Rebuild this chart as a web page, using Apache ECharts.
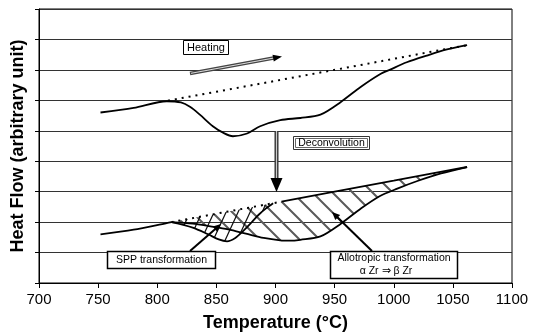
<!DOCTYPE html>
<html>
<head>
<meta charset="utf-8">
<script src="https://cdn.jsdelivr.net/npm/echarts@6/dist/echarts.min.js"></script>
<style>
html,body{margin:0;padding:0;background:#fff;}
#c{width:536px;height:334px;}
</style>
</head>
<body>
<div id="c"></div>
<script>
// ---------- data ----------
const xTicks = [700, 750, 800, 850, 900, 950, 1000, 1050, 1100];
const yTicks = [0, 1, 2, 3, 4, 5, 6, 7, 8, 9];

// upper trace: measured heat flow on heating
const heatX = [752, 780, 808, 820, 828, 836, 847, 856, 864, 876, 887, 904, 921, 938, 955, 972, 988, 997, 1011, 1028, 1045, 1062];
const heatY = [5.60, 5.75, 5.97, 5.93, 5.78, 5.53, 5.15, 4.93, 4.82, 4.91, 5.15, 5.35, 5.42, 5.53, 5.94, 6.44, 6.85, 7.01, 7.25, 7.47, 7.67, 7.81];
// upper dotted baseline
const heatBaseX = [809, 900, 990, 1035, 1062];
const heatBaseY = [5.99, 6.64, 7.29, 7.62, 7.81];

// lower (deconvoluted) traces
const leadX = [752, 780, 808, 812];
const leadY = [1.60, 1.75, 1.97, 2.00];
const lowBaseX = [812, 860, 905, 950, 1000, 1035, 1062];
const lowBaseY = [2.00, 2.35, 2.67, 3.00, 3.36, 3.62, 3.81];
const lowBaseDottedEnd = 905;
const sppX = [812, 830, 843, 852, 859, 866, 873, 880, 886, 892, 898];
const sppY = [2.00, 1.82, 1.60, 1.43, 1.37, 1.48, 1.72, 2.00, 2.25, 2.45, 2.62];
const alloX = [812, 830, 845, 860, 875, 890, 904, 912, 921, 938, 955, 972, 988, 1003, 1020, 1040, 1062];
const alloY = [2.00, 1.95, 1.86, 1.76, 1.62, 1.48, 1.40, 1.39, 1.42, 1.53, 1.94, 2.44, 2.85, 3.10, 3.35, 3.60, 3.81];

// ---------- helpers ----------
const FONT = '"Liberation Sans", Arial, sans-serif';
const zip = (xs, ys) => xs.map((x, i) => [x, ys[i]]);

function hatch(w, h, dir, color, lw) {
  const c = document.createElement('canvas');
  c.width = w; c.height = h;
  const g = c.getContext('2d');
  g.strokeStyle = color; g.lineWidth = lw; g.lineCap = 'butt';
  g.beginPath();
  for (let k = -1; k <= 1; k++) {
    if (dir === 'back') {
      g.moveTo(k * w - w, -h); g.lineTo(k * w + 2 * w, 2 * h);
    } else {
      g.moveTo(k * w + 2 * w, -h); g.lineTo(k * w - w, 2 * h);
    }
  }
  g.stroke();
  return c;
}
const alloPattern = hatch(20, 20, 'back', '#5a5a5a', 2);
const sppPattern = hatch(12, 26, 'fwd', '#111', 1.2);

function areaRender(topX, topY, botX, botY, pattern) {
  const x0 = botX[0], x1 = botX[botX.length - 1];
  return function (params, api) {
    const pts = [];
    pts.push(api.coord([x0, botY[0]]));
    for (let i = 0; i < topX.length; i++) {
      if (topX[i] > x0 && topX[i] < x1) pts.push(api.coord([topX[i], topY[i]]));
    }
    pts.push(api.coord([x1, botY[botY.length - 1]]));
    for (let i = botX.length - 2; i >= 1; i--) pts.push(api.coord([botX[i], botY[i]]));
    return {
      type: 'polygon',
      shape: { points: pts, smooth: 0 },
      style: { fill: { image: pattern, repeat: 'repeat' }, stroke: null }
    };
  };
}

function arrowHead(x1, y1, x2, y2, len, hw) {
  const dx = x2 - x1, dy = y2 - y1, L = Math.hypot(dx, dy);
  const ux = dx / L, uy = dy / L, px = -uy, py = ux;
  const bx = x2 - ux * len, by = y2 - uy * len;
  return [[x2, y2], [bx + px * hw, by + py * hw], [bx - px * hw, by - py * hw]];
}
function shaftEnd(x1, y1, x2, y2, len) {
  const dx = x2 - x1, dy = y2 - y1, L = Math.hypot(dx, dy);
  return [x2 - dx / L * len * 0.8, y2 - dy / L * len * 0.8];
}

const lineBase = { type: 'line', symbol: 'none', smooth: 0.3, z: 3, silent: true };
const solid = { color: '#000', width: 1.8 };
const dotted = { color: '#000', width: 2, type: [2, 5] };

const lowDotX = lowBaseX.filter(x => x <= lowBaseDottedEnd);
const lowDotY = lowBaseY.slice(0, lowDotX.length);
const lowSolX = lowBaseX.filter(x => x >= lowBaseDottedEnd);
const lowSolY = lowBaseY.slice(lowBaseX.length - lowSolX.length);

// annotation geometry
const heatA = [190, 73.5, 282, 56.5];
const sppA = [190, 251, 221, 224];
const alloA = [372, 251, 332, 212];
const hs = shaftEnd(...heatA, 9), ss = shaftEnd(...sppA, 8), as = shaftEnd(...alloA, 8);

const option = {
  animation: false,
  backgroundColor: '#fff',
  grid: { left: 39, right: 24, top: 9, bottom: 51, show: true, borderColor: '#000', borderWidth: 1, outerBoundsMode: 'none' },
  xAxis: {
    type: 'value', min: xTicks[0], max: xTicks[xTicks.length - 1], interval: xTicks[1] - xTicks[0],
    axisLine: { lineStyle: { color: '#000', width: 1 } },
    axisTick: { show: true, length: 5, lineStyle: { color: '#000' } },
    axisLabel: { color: '#000', fontSize: 15, fontFamily: FONT, margin: 9, formatter: v => String(v) },
    splitLine: { show: false },
    name: 'Temperature (°C)', nameLocation: 'middle', nameGap: 31,
    nameTextStyle: { color: '#000', fontSize: 18, fontWeight: 'bold', fontFamily: FONT }
  },
  yAxis: {
    type: 'value', min: yTicks[0], max: yTicks[yTicks.length - 1], interval: yTicks[1] - yTicks[0],
    axisLine: { show: true, lineStyle: { color: '#000', width: 1 } },
    axisTick: { show: true, length: 4, lineStyle: { color: '#000' } },
    axisLabel: { show: false },
    splitLine: { show: true, lineStyle: { color: '#333', width: 1 } },
    name: 'Heat Flow (arbitrary unit)', nameLocation: 'middle', nameGap: 12, nameRotate: 90,
    nameTextStyle: { color: '#000', fontSize: 18, fontWeight: 'bold', fontFamily: FONT }
  },
  series: [
    { type: 'custom', coordinateSystem: 'cartesian2d', data: [[800, 2]], z: 2, silent: true,
      renderItem: areaRender(lowBaseX, lowBaseY, alloX, alloY, alloPattern) },
    { type: 'custom', coordinateSystem: 'cartesian2d', data: [[800, 2]], z: 2, silent: true,
      renderItem: areaRender(lowBaseX, lowBaseY, sppX, sppY, sppPattern) },
    Object.assign({}, lineBase, { data: zip(heatX, heatY), lineStyle: solid }),
    Object.assign({}, lineBase, { smooth: false, data: zip(heatBaseX, heatBaseY), lineStyle: dotted }),
    Object.assign({}, lineBase, { data: zip(leadX, leadY), lineStyle: solid }),
    Object.assign({}, lineBase, { smooth: false, data: zip(lowDotX, lowDotY), lineStyle: dotted }),
    Object.assign({}, lineBase, { smooth: false, data: zip(lowSolX, lowSolY), lineStyle: solid }),
    Object.assign({}, lineBase, { data: zip(sppX, sppY), lineStyle: solid }),
    Object.assign({}, lineBase, { data: zip(alloX, alloY), lineStyle: solid })
  ],
  graphic: [
    // Heating label + arrow
    { type: 'rect', z: 10, shape: { x: 183.5, y: 40.5, width: 45, height: 14 }, style: { fill: '#fff', stroke: '#000', lineWidth: 1 } },
    { type: 'text', z: 11, x: 206, y: 47.5, style: { text: 'Heating', font: '11px ' + FONT, fill: '#000', align: 'center', verticalAlign: 'middle' } },
    { type: 'line', z: 10, shape: { x1: heatA[0], y1: heatA[1], x2: hs[0], y2: hs[1] }, style: { stroke: '#444', lineWidth: 3.5 } },
    { type: 'line', z: 11, shape: { x1: heatA[0] + 1, y1: heatA[1] - 0.2, x2: hs[0], y2: hs[1] }, style: { stroke: '#ddd', lineWidth: 1 } },
    { type: 'polygon', z: 12, shape: { points: arrowHead(...heatA, 9, 3.5) }, style: { fill: '#000' } },
    // Deconvolution label + arrow
    { type: 'rect', z: 10, shape: { x: 293.5, y: 136.5, width: 76, height: 13 }, style: { fill: '#fff', stroke: '#333', lineWidth: 1 } },
    { type: 'rect', z: 10, shape: { x: 295.5, y: 138.5, width: 72, height: 9 }, style: { fill: '#fff', stroke: '#666', lineWidth: 1 } },
    { type: 'text', z: 11, x: 331.5, y: 143, style: { text: 'Deconvolution', font: '10.5px ' + FONT, fill: '#000', align: 'center', verticalAlign: 'middle' } },
    { type: 'line', z: 10, shape: { x1: 276.5, y1: 131, x2: 276.5, y2: 180 }, style: { stroke: '#333', lineWidth: 4 } },
    { type: 'line', z: 11, shape: { x1: 276.5, y1: 131, x2: 276.5, y2: 180 }, style: { stroke: '#ccc', lineWidth: 1.2 } },
    { type: 'polygon', z: 12, shape: { points: [[270.5, 178], [282.5, 178], [276.5, 192]] }, style: { fill: '#000' } },
    // SPP label + arrow
    { type: 'line', z: 10, shape: { x1: sppA[0], y1: sppA[1], x2: ss[0], y2: ss[1] }, style: { stroke: '#000', lineWidth: 2 } },
    { type: 'polygon', z: 12, shape: { points: arrowHead(...sppA, 8, 3.5) }, style: { fill: '#000' } },
    { type: 'rect', z: 10, shape: { x: 107.5, y: 251.5, width: 108, height: 17 }, style: { fill: '#fff', stroke: '#000', lineWidth: 1.5 } },
    { type: 'text', z: 11, x: 161.5, y: 260, style: { text: 'SPP transformation', font: '10.5px ' + FONT, fill: '#000', align: 'center', verticalAlign: 'middle' } },
    // Allotropic label + arrow
    { type: 'line', z: 10, shape: { x1: alloA[0], y1: alloA[1], x2: as[0], y2: as[1] }, style: { stroke: '#000', lineWidth: 2 } },
    { type: 'polygon', z: 12, shape: { points: arrowHead(...alloA, 8, 3.5) }, style: { fill: '#000' } },
    { type: 'rect', z: 10, shape: { x: 330.5, y: 251.5, width: 127, height: 27 }, style: { fill: '#fff', stroke: '#000', lineWidth: 1.5 } },
    { type: 'text', z: 11, x: 394, y: 258.5, style: { text: 'Allotropic transformation', font: '10.5px ' + FONT, fill: '#000', align: 'center', verticalAlign: 'middle' } },
    { type: 'text', z: 11, x: 386, y: 271.5, style: { text: 'α Zr ⇒ β Zr', font: '10.5px ' + FONT, fill: '#000', align: 'center', verticalAlign: 'middle' } }
  ]
};

const chart = echarts.init(document.getElementById('c'), null, { renderer: 'canvas' });
chart.setOption(option);
</script>
</body>
</html>
